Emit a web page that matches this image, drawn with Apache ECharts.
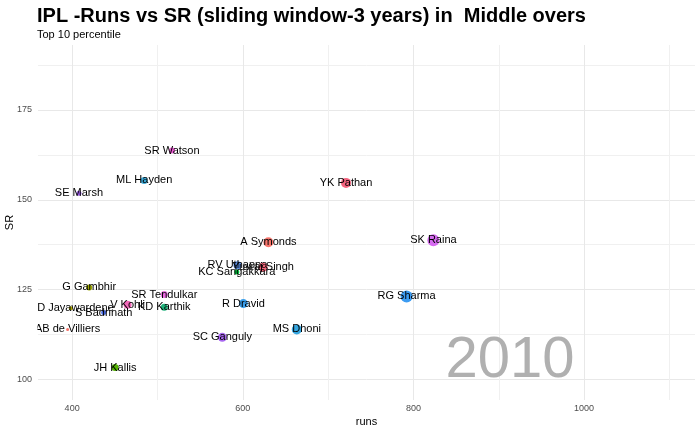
<!DOCTYPE html>
<html>
<head>
<meta charset="utf-8">
<script src="https://cdn.jsdelivr.net/npm/echarts@6/dist/echarts.min.js"></script>
<style>html,body{margin:0;padding:0;background:#fff;}#c{width:700px;height:432px;}</style>
</head>
<body>
<div id="c"></div>
<script>
// ---- data ----
const players = ['SR Watson','ML Hayden','SE Marsh','YK Pathan','A Symonds','SK Raina','RV Uthappa','Yuvraj Singh','KC Sangakkara','G Gambhir','SR Tendulkar','V Kohli','KD Karthik','MD Jayawardene','S Badrinath','AB de Villiers','SC Ganguly','R Dravid','RG Sharma','MS Dhoni','JH Kallis'];
const runs = [517, 484.4, 408, 721, 630, 823.4, 593.7, 623.8, 593, 420, 508, 465, 508, 398.5, 437, 394.7, 576, 600.7, 792, 663.3, 450.4];
const sr = [163.7, 155.4, 151.8, 154.7, 138.2, 138.7, 131.75, 131.2, 129.9, 125.6, 123.6, 120.8, 120.1, 119.8, 118.6, 113.9, 111.7, 121.1, 123.1, 113.9, 103.3];
const sizeValue = [6, 7, 5, 10, 10, 12, 8, 9, 5, 6, 7, 8, 7, 4, 5, 3, 9, 9, 12, 10, 7];
const xLabelTicks = [400, 600, 800, 1000];
const xGridTicks = [400, 500, 600, 700, 800, 900, 1000, 1100];
const yLabelTicks = [100, 125, 150, 175];
const yGridTicks = [100, 112.5, 125, 137.5, 150, 162.5, 175, 187.5];
const yearText = '2010';

// ---- styles ----
const palette = ['#EC5BD5','#3BAAD9','#9B5DE5','#F4647F','#F8766D','#D66BF0','#5E93EC','#F5657A','#00BA38','#9DA700','#E96AE0','#F266B8','#1FB27A','#A9A400','#4A6CE8','#F5736A','#A867F0','#3A9EEA','#3C9CF2','#35A6E0','#53B400'];
const FONT = 'Liberation Sans, Arial, sans-serif';

const chart = echarts.init(document.getElementById('c'), null, {renderer: 'canvas'});
const data = players.map((p, i) => ({
  name: p,
  value: [runs[i], sr[i], sizeValue[i]],
  itemStyle: {color: palette[i]}
}));

chart.setOption({
  animation: false,
  backgroundColor: '#ffffff',
  textStyle: {fontFamily: FONT},
  title: [
    {text: 'IPL -Runs vs SR (sliding window-3 years) in  Middle overs', left: 37, top: 6, padding: 0,
     textStyle: {fontFamily: FONT, fontSize: 20, fontWeight: 'bold', color: '#000', lineHeight: 20}},
    {text: 'Top 10 percentile', left: 37, top: 29, padding: 0,
     textStyle: {fontFamily: FONT, fontSize: 11, fontWeight: 'normal', color: '#000', lineHeight: 12}}
  ],
  grid: {left: 38, right: 5, top: 45, bottom: 32, containLabel: false, outerBoundsMode: 'none'},
  xAxis: {
    type: 'value', min: 360, max: 1130,
    name: 'runs', nameLocation: 'middle', nameGap: 16, nameMoveOverlap: false,
    nameTextStyle: {fontFamily: FONT, fontSize: 11, color: '#000'},
    axisLine: {show: false},
    axisTick: {show: false, customValues: xGridTicks},
    axisLabel: {customValues: xLabelTicks, color: '#4d4d4d', fontSize: 9, fontFamily: FONT, margin: 4,
      formatter: v => String(v)},
    splitLine: {show: true, lineStyle: {color: ['#e8e8e8', '#f0f0f0'], width: 1}}
  },
  yAxis: {
    type: 'value', min: 94.25, max: 193.1,
    name: 'SR', nameLocation: 'middle', nameGap: 23, nameRotate: 90, nameMoveOverlap: false,
    nameTextStyle: {fontFamily: FONT, fontSize: 11, color: '#000'},
    axisLine: {show: false},
    axisTick: {show: false, customValues: yGridTicks},
    axisLabel: {customValues: yLabelTicks, color: '#4d4d4d', fontSize: 9, fontFamily: FONT, margin: 6,
      formatter: v => String(v)},
    splitLine: {show: true, lineStyle: {color: ['#e8e8e8', '#f0f0f0'], width: 1}}
  },
  graphic: [
    {type: 'text', z: 1, silent: true, x: 510, y: 361,
     style: {text: yearText, fontFamily: FONT, fontSize: 58, fill: '#b0b0b0', align: 'center', verticalAlign: 'middle'}},
    {type: 'rect', z: 100, silent: true, shape: {x: 0, y: 299, width: 37.5, height: 40},
     style: {fill: '#ffffff'}}
  ],
  series: [{
    type: 'scatter',
    data: data,
    symbolSize: v => v[2],
    itemStyle: {opacity: 1},
    label: {show: true, position: 'inside', formatter: p => p.name,
      color: '#000', fontSize: 11, fontFamily: FONT},
    z: 3
  }]
});
</script>
</body>
</html>
